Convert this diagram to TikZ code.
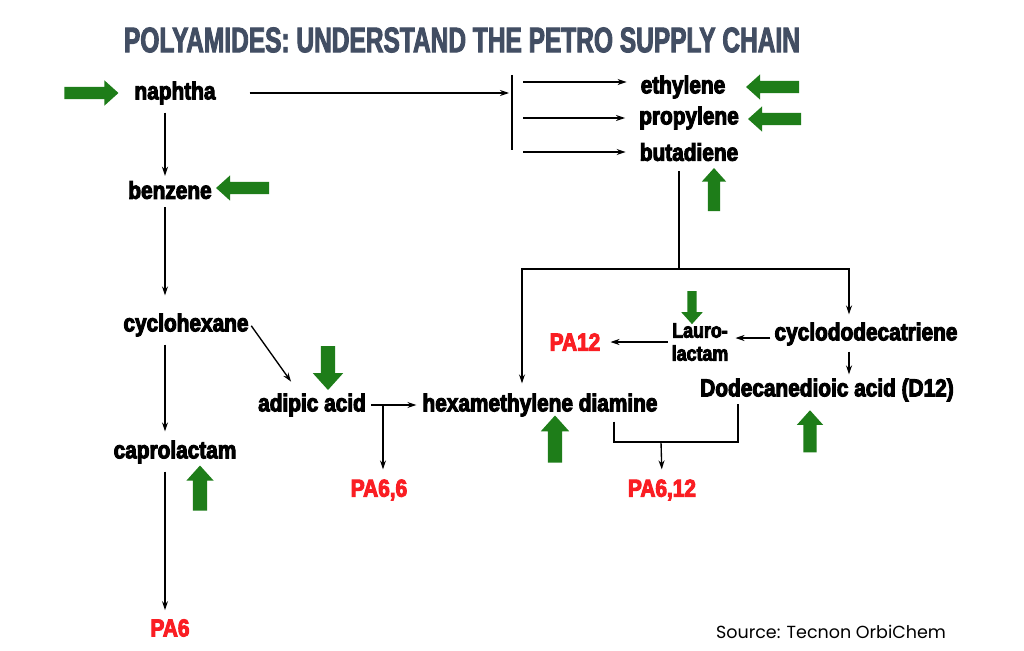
\documentclass[tikz,border=0pt]{standalone}
\usepackage{fontspec}
\usetikzlibrary{arrows.meta,shapes.arrows}
\newfontfamily\chemfont[FakeStretch=0.85,BoldFeatures={FakeBold=4}]{Liberation Sans}
\newfontfamily\headfont[FakeStretch=0.69,BoldFeatures={FakeBold=2.5}]{Liberation Sans}
\newfontfamily\srcfont{Poppins}
\definecolor{leafgreen}{RGB}{30,125,25}
\definecolor{slate}{RGB}{66,78,99}
\definecolor{polyred}{RGB}{250,30,35}

\begin{document}
\begin{tikzpicture}[x=1pt, y=-1pt,
  chem/.style={font=\chemfont\bfseries\fontsize{24.5}{26}\selectfont, inner sep=2pt},
  poly/.style={chem, text=polyred},
  flow/.style={-{Stealth[length=9pt,width=6pt]}, line width=1.35pt},
  link/.style={line width=1.35pt},
  greenarr/.style n args={3}{single arrow, fill=leafgreen, inner xsep=0pt, inner ysep=#2,
    minimum height=#1, single arrow head extend=#3, single arrow tip angle=84}]
\useasboundingbox[fill=white] (0,0) rectangle (1024,650);
\node[font=\headfont\bfseries\fontsize{35.5}{38}\selectfont, text=slate] (title) at (462,40) {POLYAMIDES: UNDERSTAND THE PETRO SUPPLY CHAIN};
\coordinate (colA) at (165,0);
\node[chem] (naphtha) at (175,93) {naphtha};
\node[chem] (benzene) at (170,190) {benzene};
\node[chem] (cyclohex) at (186,325) {cyclohexane};
\node[chem] (caprolac) at (175,452) {caprolactam};
\node[poly] (pa6) at (170,628) {PA6};
\draw[flow, shorten <=6pt, shorten >=3pt] (naphtha.south -| colA) -- (benzene.north -| colA);
\draw[flow, shorten <=6pt, shorten >=16pt] (benzene.south -| colA) -- (cyclohex.north -| colA);
\draw[flow, shorten <=6pt, shorten >=7pt] (cyclohex.south -| colA) -- (caprolac.north -| colA);
\draw[flow, shorten <=6pt, shorten >=7pt] (caprolac.south -| colA) -- (pa6.north -| colA);
\coordinate (bartop) at (512,75);
\coordinate (barbot) at (512,150);
\coordinate (split) at (523,0);
\draw[link] (bartop) -- (barbot);
\draw[flow, shorten <=32pt, shorten >=3pt] (naphtha.east) -- (naphtha.east -| bartop);
\node[chem] (ethylene) at (683,87) {ethylene};
\node[chem] (propylene) at (689,118) {propylene};
\node[chem] (butadiene) at (689,152) {butadiene};
\draw[flow, shorten >=12pt] ([yshift=5pt]ethylene.west -| split) -- ([yshift=5pt]ethylene.west);
\draw[flow, shorten >=12pt] (propylene.west -| split) -- (propylene.west);
\draw[flow, shorten >=12pt] (butadiene.west -| split) -- (butadiene.west);
\node[chem] (adipic) at (312,405) {adipic acid};
\node[chem] (hmd) at (540,405) {hexamethylene diamine};
\node[poly] (pa66) at (379,490) {PA6,6};
\node[poly] (pa612) at (662,490) {PA6,12};
\draw[flow, shorten <=1pt, shorten >=12pt] (cyclohex.east) -- ([xshift=-14pt]adipic.north);
\draw[flow, shorten <=3pt, shorten >=4pt] (adipic.east) -- (hmd.west);
\coordinate (split66) at (383,406);
\draw[flow, shorten >=8pt] (split66) -- (split66 |- pa66.north);
\node[chem] (cdt) at (866,334) {cyclododecatriene};
\node[chem, align=center, font=\chemfont\bfseries\fontsize{21}{23}\selectfont] (lauro) at (700,342) {Lauro-\\lactam};
\node[poly] (pa12) at (575,342) {PA12};
\node[chem] (dda) at (827,390) {Dodecanedioic acid (D12)};
\coordinate (fork) at (679,269);
\draw[link, shorten <=8pt] (butadiene.south -| fork) -- (fork);
\draw[flow, shorten >=8pt] (fork) -| ([xshift=-18pt]hmd.north);
\draw[flow, shorten >=6pt] (fork) -| ([xshift=-17pt]cdt.north);
\draw[flow, shorten <=2pt, shorten >=5pt] ([yshift=-4pt]cdt.west) -- ([yshift=-4pt]cdt.west -| lauro.east);
\draw[flow, shorten <=2pt, shorten >=8pt] (lauro.west) -- (pa12.east);
\draw[flow, shorten <=4pt, shorten >=2pt] ([xshift=-17pt]cdt.south) -- ([xshift=-17pt]cdt.south |- dda.north);
\coordinate (join) at (661,442);
\draw[link, shorten <=3pt] ([xshift=74pt]hmd.south) |- (join) -| ([xshift=-89pt]dda.south);
\draw[flow, shorten >=8pt] (join) -- (pa612.north);
\node[greenarr={54pt}{6pt}{6.5pt}] (gnaphtha) at (88,93) {};
\node[greenarr={53pt}{6pt}{6.5pt}, rotate=180] (gbenzene) at (246,188) {};
\node[greenarr={53pt}{6pt}{6.5pt}, rotate=180] (gethylene) at (776,87) {};
\node[greenarr={53pt}{6pt}{6.5pt}, rotate=180] (gpropylene) at (778,119) {};
\node[greenarr={43pt}{6pt}{6pt}, rotate=90] (gbutadiene) at (714,193) {};
\node[greenarr={45pt}{7pt}{6.5pt}, rotate=90] (gcaprolac) at (200,492) {};
\node[greenarr={44pt}{7pt}{8pt}, rotate=-90] (gadipic) at (328,364) {};
\node[greenarr={47pt}{7pt}{7pt}, rotate=90] (ghmd) at (555,443) {};
\node[greenarr={33pt}{4.5pt}{6pt}, rotate=-90] (glauro) at (692,305) {};
\node[greenarr={42pt}{6.5pt}{6.5pt}, rotate=90] (gdda) at (810,435) {};
\node[font=\srcfont\fontsize{17.5}{20}\selectfont] (source) at (831,632) {Source: Tecnon OrbiChem};
\end{tikzpicture}
\end{document}
